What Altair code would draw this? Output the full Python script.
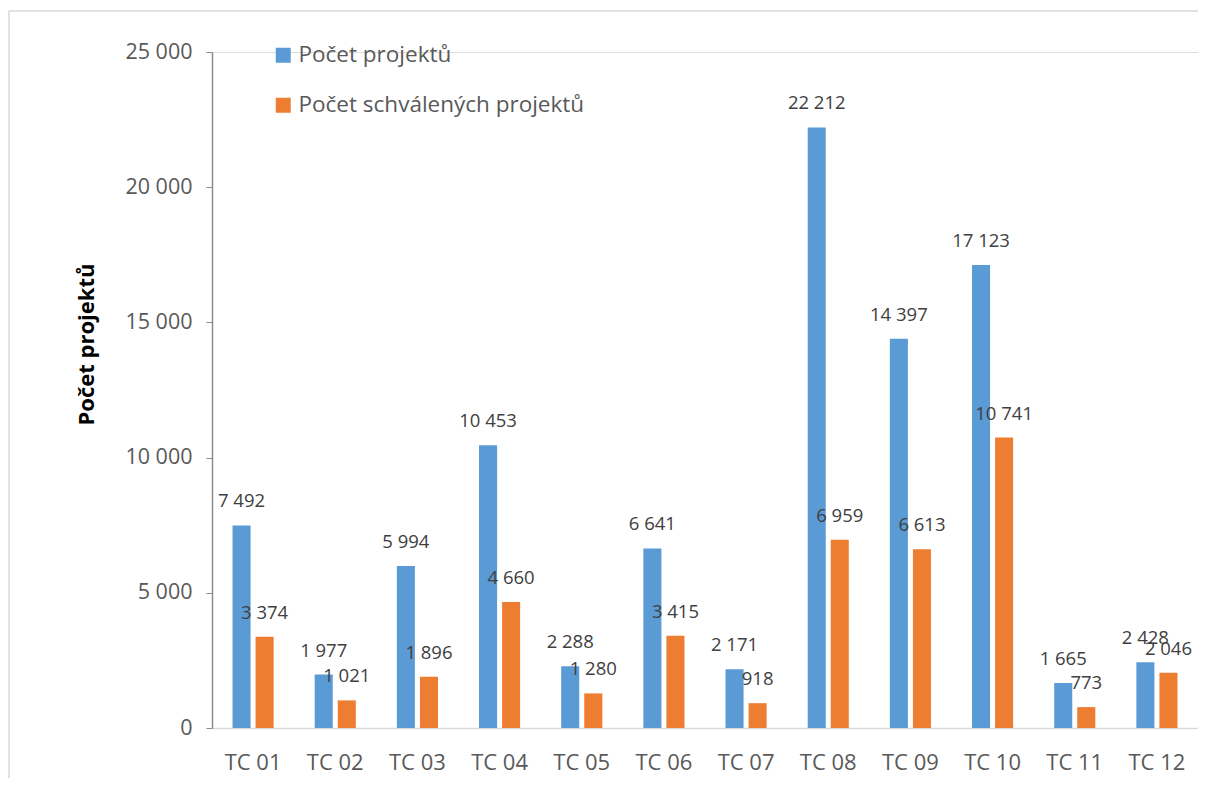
import altair as alt
import pandas as pd

categories = ["TC 01", "TC 02", "TC 03", "TC 04", "TC 05", "TC 06",
              "TC 07", "TC 08", "TC 09", "TC 10", "TC 11", "TC 12"]
projects = [7492, 1977, 5994, 10453, 2288, 6641, 2171, 22212, 14397, 17123, 1665, 2428]
approved = [3374, 1021, 1896, 4660, 1280, 3415, 918, 6959, 6613, 10741, 773, 2046]
series_names = ["Počet projektů", "Počet schválených projektů"]
y_ticks = [0, 5000, 10000, 15000, 20000, 25000]

rows = []
for c, p, a in zip(categories, projects, approved):
    rows.append({"cat": c, "series": series_names[0], "value": p})
    rows.append({"cat": c, "series": series_names[1], "value": a})
df = pd.DataFrame(rows)

FONT = "Open Sans"
GREY = "#595959"

x = alt.X("cat:N", sort=categories,
          scale=alt.Scale(paddingInner=0, paddingOuter=0),
          axis=alt.Axis(title=None, labelAngle=0, labelFontSize=22, labelColor=GREY,
                        labelFont=FONT, labelPadding=24, ticks=False,
                        domainColor="#D9D9D9", domainWidth=1.5, grid=False))
xo = alt.XOffset("series:N", sort=series_names,
                 scale=alt.Scale(domain=series_names, paddingInner=0.217, paddingOuter=0.89))
y = alt.Y("value:Q", scale=alt.Scale(domain=[0, 25000], nice=False),
          axis=alt.Axis(values=y_ticks,
                        labelExpr="replace(format(datum.value, ','), ',', ' ')",
                        title="Počet projektů", titleFont=FONT, titleFontSize=22,
                        titleFontWeight="bold", titleColor="#000000", titlePadding=26,
                        titleY=292,
                        labelFontSize=21.5, labelColor=GREY, labelFont=FONT,
                        labelPadding=14, tickSize=6, tickColor="#8C8C8C",
                        domainColor="#8C8C8C", domainWidth=1.5, grid=False))
color = alt.Color("series:N", sort=series_names,
                  scale=alt.Scale(domain=series_names, range=["#5B9BD5", "#ED7D31"]),
                  legend=alt.Legend(title=None, orient="none", legendX=60, legendY=-8,
                                    symbolType="square", symbolSize=225,
                                    symbolStrokeWidth=0, labelFontSize=22.5,
                                    labelFont=FONT, labelColor=GREY, rowPadding=27,
                                    labelOffset=4, labelLimit=600, padding=0))

bars = alt.Chart(df).mark_bar().encode(x=x, xOffset=xo, y=y, color=color)

labels = alt.Chart(df).transform_calculate(
    label="replace(format(datum.value, ','), ',', ' ')"
).mark_text(dy=-24, fontSize=18.5, font=FONT, color="#404040", baseline="middle").encode(
    x=x, xOffset=xo, y=y, text="label:N")

frame_data = alt.Data(values=[{"f": 1}])
frame_left = alt.Chart(frame_data).mark_rule(stroke="#D9D9D9", strokeWidth=1.5).encode(
    x=alt.value(-203), y=alt.value(-41), y2=alt.value(760))
frame_top = alt.Chart(frame_data).mark_rule(stroke="#D9D9D9", strokeWidth=1.5).encode(
    x=alt.value(-203), x2=alt.value(986), y=alt.value(-41))

chart = alt.layer(frame_left, frame_top, bars, labels).properties(
    width=986, height=676,
    autosize=alt.AutoSizeParams(type="none"),
    padding={"left": 204, "top": 44, "right": 0, "bottom": 50},
).configure_view(strokeWidth=0).configure(font=FONT)

chart.save("out.html", embed_options={"renderer": "svg", "actions": False})
